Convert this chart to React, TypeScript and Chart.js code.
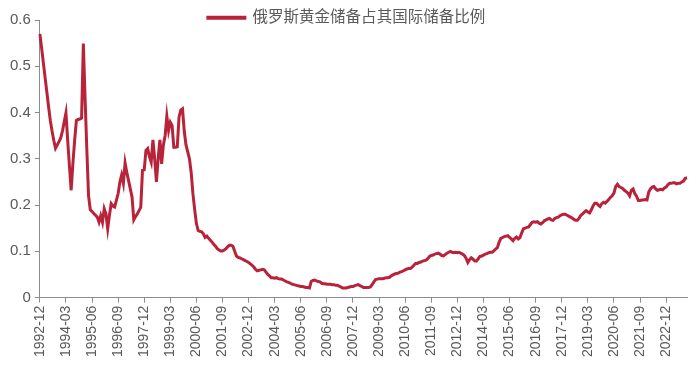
import React, { useEffect, useRef } from "react";
import { Chart, registerables } from "chart.js";

Chart.register(...registerables);

const seriesName = "俄罗斯黄金储备占其国际储备比例";
const startYear = 1992;
const startMonth = 12;
const yTicks = [0, 0.1, 0.2, 0.3, 0.4, 0.5, 0.6];
const labelEvery = 15;

const v1992 = [0.57];
const v1993 = [0.54, 0.508, 0.476, 0.445, 0.413, 0.383, 0.36, 0.34, 0.323, 0.33, 0.337, 0.345];
const v1994 = [0.36, 0.38, 0.399, 0.34, 0.285, 0.232, 0.29, 0.34, 0.383, 0.385, 0.386, 0.388];
const v1995 = [0.549, 0.43, 0.32, 0.22, 0.19, 0.186, 0.182, 0.178, 0.174, 0.163, 0.177, 0.163];
const v1996 = [0.192, 0.181, 0.149, 0.178, 0.203, 0.198, 0.196, 0.21, 0.225, 0.25, 0.265, 0.247];
const v1997 = [0.291, 0.27, 0.253, 0.235, 0.217, 0.168, 0.175, 0.181, 0.188, 0.195, 0.275, 0.276];
const v1998 = [0.318, 0.322, 0.305, 0.293, 0.341, 0.3, 0.25, 0.3, 0.341, 0.289, 0.33, 0.35];
const v1999 = [0.392, 0.361, 0.379, 0.372, 0.325, 0.325, 0.326, 0.39, 0.405, 0.408, 0.36, 0.33];
const v2000 = [0.315, 0.3, 0.27, 0.224, 0.19, 0.16, 0.145, 0.143, 0.142, 0.138, 0.13, 0.133];
const v2001 = [0.128, 0.124, 0.12, 0.115, 0.111, 0.106, 0.103, 0.101, 0.101, 0.103, 0.106, 0.11];
const v2002 = [0.113, 0.113, 0.111, 0.1, 0.09, 0.087, 0.086, 0.084, 0.082, 0.08, 0.078, 0.076];
const v2003 = [0.073, 0.07, 0.066, 0.061, 0.058, 0.059, 0.06, 0.061, 0.06, 0.055, 0.05, 0.047];
const v2004 = [0.043, 0.043, 0.042, 0.043, 0.041, 0.04, 0.04, 0.038, 0.036, 0.034, 0.033, 0.031];
const v2005 = [0.029, 0.028, 0.027, 0.026, 0.025, 0.024, 0.024, 0.023, 0.022, 0.022, 0.021, 0.035];
const v2006 = [0.037, 0.038, 0.036, 0.035, 0.034, 0.031, 0.03, 0.03, 0.029, 0.029, 0.029, 0.028];
const v2007 = [0.028, 0.027, 0.027, 0.025, 0.023, 0.021, 0.021, 0.021, 0.022, 0.023, 0.024, 0.024];
const v2008 = [0.026, 0.027, 0.028, 0.026, 0.024, 0.022, 0.022, 0.022, 0.022, 0.023, 0.028, 0.034];
const v2009 = [0.039, 0.04, 0.041, 0.041, 0.041, 0.042, 0.043, 0.043, 0.044, 0.047, 0.049, 0.051];
const v2010 = [0.052, 0.053, 0.055, 0.056, 0.058, 0.06, 0.062, 0.063, 0.063, 0.066, 0.07, 0.074];
const v2011 = [0.074, 0.076, 0.077, 0.079, 0.08, 0.081, 0.084, 0.089, 0.091, 0.092, 0.094, 0.095];
const v2012 = [0.096, 0.094, 0.091, 0.09, 0.093, 0.096, 0.098, 0.1, 0.098, 0.097, 0.098, 0.097];
const v2013 = [0.098, 0.096, 0.094, 0.091, 0.085, 0.076, 0.082, 0.086, 0.083, 0.079, 0.079, 0.084];
const v2014 = [0.089, 0.09, 0.092, 0.094, 0.095, 0.097, 0.098, 0.098, 0.101, 0.105, 0.108, 0.12];
const v2015 = [0.128, 0.13, 0.132, 0.133, 0.134, 0.13, 0.127, 0.123, 0.128, 0.131, 0.127, 0.13];
const v2016 = [0.14, 0.149, 0.15, 0.152, 0.153, 0.158, 0.163, 0.164, 0.163, 0.164, 0.161, 0.159];
const v2017 = [0.162, 0.166, 0.168, 0.17, 0.171, 0.168, 0.167, 0.171, 0.173, 0.174, 0.177, 0.179];
const v2018 = [0.18, 0.18, 0.178, 0.176, 0.174, 0.172, 0.169, 0.167, 0.167, 0.172, 0.178, 0.181];
const v2019 = [0.185, 0.188, 0.185, 0.183, 0.19, 0.198, 0.204, 0.204, 0.2, 0.197, 0.203, 0.206];
const v2020 = [0.204, 0.208, 0.212, 0.217, 0.22, 0.226, 0.24, 0.245, 0.24, 0.238, 0.236, 0.232];
const v2021 = [0.229, 0.226, 0.22, 0.232, 0.235, 0.225, 0.219, 0.21, 0.21, 0.211, 0.211, 0.212];
const v2022 = [0.211, 0.228, 0.235, 0.239, 0.24, 0.235, 0.232, 0.233, 0.234, 0.233, 0.237, 0.239];
const v2023 = [0.244, 0.247, 0.247, 0.248, 0.248, 0.246, 0.247, 0.247, 0.25, 0.252, 0.258, 0.259];

const values: number[] = [
  ...v1992, ...v1993, ...v1994, ...v1995, ...v1996, ...v1997, ...v1998, ...v1999,
  ...v2000, ...v2001, ...v2002, ...v2003, ...v2004, ...v2005, ...v2006, ...v2007,
  ...v2008, ...v2009, ...v2010, ...v2011, ...v2012, ...v2013, ...v2014, ...v2015,
  ...v2016, ...v2017, ...v2018, ...v2019, ...v2020, ...v2021, ...v2022, ...v2023,
];

const categories: string[] = values.map((_, i) => {
  const total = startYear * 12 + (startMonth - 1) + i;
  const y = Math.floor(total / 12);
  const m = (total % 12) + 1;
  return `${y}-${m < 10 ? "0" + m : m}`;
});

const FONT = "'Liberation Sans', Arial, 'Noto Sans CJK SC', sans-serif";
const LINE_COLOR = "#B8233A";
const TEXT_COLOR = "#595959";
const AXIS_COLOR = "#8c8c8c";

const legendShrink = {
  id: "legendShrink",
  beforeInit(chart: any) {
    const legend = chart.legend;
    if (!legend) return;
    const origFit = legend.fit;
    legend.fit = function () {
      origFit.call(this);
      this.height = 20;
    };
    legend.draw = function () {
      if (this.options.display && typeof this._draw === "function") {
        this._draw();
      }
    };
  },
};

export default function App() {
  const ref = useRef<HTMLCanvasElement | null>(null);
  useEffect(() => {
    document.body.style.margin = "0";
    const ctx = ref.current;
    if (!ctx) return;
    const chart = new Chart(ctx, {
      type: "line",
      data: {
        labels: categories,
        datasets: [
          {
            label: seriesName,
            data: values,
            borderColor: LINE_COLOR,
            backgroundColor: LINE_COLOR,
            borderWidth: 3,
            pointRadius: 0,
            tension: 0,
            fill: false,
          },
        ],
      },
      options: {
        animation: false,
        responsive: true,
        maintainAspectRatio: false,
        layout: { padding: { left: 6, right: 13, top: 0, bottom: 14 } },
        plugins: {
          tooltip: { enabled: false },
          legend: {
            display: true,
            position: "top",
            labels: {
              boxWidth: 37,
              boxHeight: 1,
              padding: 10,
              color: TEXT_COLOR,
              font: { family: FONT, size: 15.5 },
            },
          },
        },
        scales: {
          x: {
            type: "category",
            offset: false,
            grid: {
              display: true,
              drawOnChartArea: false,
              drawTicks: true,
              tickLength: 5,
              color: AXIS_COLOR,
            },
            border: { display: true, color: AXIS_COLOR, width: 1 },
            ticks: {
              autoSkip: false,
              maxRotation: 90,
              minRotation: 90,
              padding: 3,
              color: TEXT_COLOR,
              font: { family: FONT, size: 14 },
              callback: (_v: any, i: number) => (i % labelEvery === 0 ? categories[i] : null),
            },
          },
          y: {
            min: yTicks[0],
            max: yTicks[yTicks.length - 1],
            grid: {
              display: true,
              drawOnChartArea: false,
              drawTicks: true,
              tickLength: 5,
              color: AXIS_COLOR,
            },
            border: { display: true, color: AXIS_COLOR, width: 1 },
            afterBuildTicks: (scale: any) => {
              scale.ticks = yTicks.map((v) => ({ value: v }));
            },
            ticks: {
              padding: 4,
              color: TEXT_COLOR,
              font: { family: FONT, size: 15 },
              callback: (v: any) => String(Math.round(Number(v) * 10) / 10),
            },
          },
        },
      },
      plugins: [legendShrink],
    });
    return () => chart.destroy();
  }, []);
  return (
    <div style={{ position: "relative", width: 700, height: 374 }}>
      <canvas ref={ref} />
    </div>
  );
}
